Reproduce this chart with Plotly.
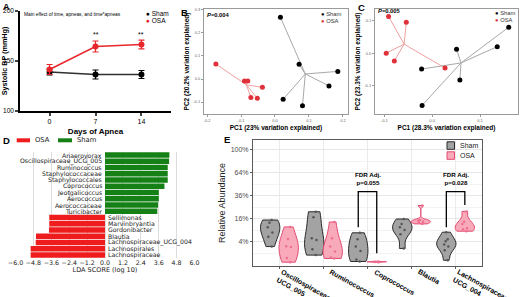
import numpy as np
import plotly.graph_objects as go

W, H = 522, 297
def PX(x): return x / W
def PY(y): return 1 - y / H

# ---------------- data ----------------
# Panel A
days = [0, 7, 14]
sham_bp = [139, 136.5, 136.5]
sham_err = [3, 4.5, 4]
osa_bp = [141.5, 164.5, 166.5]
osa_err = [5, 5.5, 4.3]

# Panel B (PCoA, 20.2% / 23%)
b_sham_x = [0.016, 0.071, 0.185, 0.159, 0.024, 0.081]
b_sham_y = [0.268, 0.064, 0.033, -0.030, -0.088, -0.116]
b_osa_x = [-0.174, -0.090, -0.080, -0.037, -0.071, -0.052]
b_osa_y = [0.065, -0.009, -0.009, -0.036, -0.080, -0.084]

# Panel C
c_sham_x = [0.160, 0.136, 0.051, -0.022, 0.058, -0.021]
c_sham_y = [0.080, 0.020, 0.012, -0.049, -0.083, -0.161]
c_osa_x = [-0.091, -0.054, -0.096, -0.079, 0.027]
c_osa_y = [0.113, 0.095, 0.000, -0.024, -0.046]

# Panel D (LEfSe)
sham_taxa = ["Anaerovorax", "Oscillospiraceae_UCG_005", "Ruminococcus", "Staphylococcaceae",
             "Staphylococcales", "Coprococcus", "Jeotgalicoccus", "Aerococcus",
             "Aerococcaceae", "Turicibacter"]
sham_lda = [4.32, 4.30, 4.21, 4.21, 4.21, 3.99, 3.61, 3.61, 3.56, 3.51]
osa_taxa = ["Sellimonas", "Marvinbryantia", "Gordonibacter", "Blautia",
            "Lachnospiraceae_UCG_004", "Lachnospirales", "Lachnospiraceae"]
osa_lda = [-3.74, -3.74, -3.76, -4.63, -4.65, -4.99, -4.99]
lda_ticks = [-6.0, -4.8, -3.6, -2.4, -1.2, 0.0, 1.2, 2.4, 3.6, 4.8, 6.0]

# Panel E (relative abundance, %)
genera = ["Oscillospiraceae<br>UCG_005", "Ruminococcus", "Coprococcus", "Blautia",
          "Lachnospiraceae<br>UCG_004"]
sham_oscillo = [15.1, 13.3, 10.6, 7.9, 5.9, 2.5]
osa_oscillo = [10.8, 5.0, 2.6, 2.4, 0.35, 0.05]
sham_rumino = [21.2, 17.0, 5.3, 4.6, 1.8, 0.7]
osa_rumino = [13.8, 5.3, 2.5, 1.3, 0.4, 0.3]
sham_copro = [7.7, 4.9, 2.5, 1.4, 0.2, 0.08]
osa_copro = [0.06, 0.07, 0.05, 0.08, 0.06, 0.07]
sham_blautia = [15.8, 12.5, 10.6, 9.1, 7.0, 2.0]
osa_blautia = [26.5, 15.1, 14.6, 14.0, 13.3, 12.6]
sham_lachno = [8.0, 4.9, 4.2, 3.1, 2.5, 1.6, 0.15]
osa_lachno = [21.5, 14.0, 12.5, 10.0, 9.5, 8.5]
abund_ticks = [4, 16, 36, 64, 100]
sham_groups = [sham_oscillo, sham_rumino, sham_copro, sham_blautia, sham_lachno]
osa_groups = [osa_oscillo, osa_rumino, osa_copro, osa_blautia, osa_lachno]

RED = "#e8262b"
fig = go.Figure()

# ---------------- Panel A ----------------
fig.add_trace(go.Scatter(x=days, y=sham_bp, mode="lines+markers", xaxis="x", yaxis="y",
                         line=dict(color="#303030", width=1.5),
                         marker=dict(color="black", size=6),
                         error_y=dict(type="data", array=sham_err, color="black", thickness=1.2, width=3),
                         showlegend=False))
fig.add_trace(go.Scatter(x=days, y=osa_bp, mode="lines+markers", xaxis="x", yaxis="y",
                         line=dict(color=RED, width=1.5),
                         marker=dict(color=RED, size=6),
                         error_y=dict(type="data", array=osa_err, color=RED, thickness=1.2, width=3),
                         showlegend=False))

# ---------------- Panels B, C ----------------
def spider(xs, ys, color, lcolor, xa, ya):
    cx, cy = float(np.mean(xs)), float(np.mean(ys))
    lx, ly = [], []
    for a, b in zip(xs, ys):
        lx += [cx, a, None]
        ly += [cy, b, None]
    fig.add_trace(go.Scatter(x=lx, y=ly, mode="lines", xaxis=xa, yaxis=ya,
                             line=dict(color=lcolor, width=1), showlegend=False, hoverinfo="skip"))
    fig.add_trace(go.Scatter(x=xs, y=ys, mode="markers", xaxis=xa, yaxis=ya,
                             marker=dict(color=color, size=5), showlegend=False))

spider(b_sham_x, b_sham_y, "black", "#a8a8a8", "x2", "y2")
spider(b_osa_x, b_osa_y, "#e0303a", "#f2a0a0", "x2", "y2")
spider(c_sham_x, c_sham_y, "black", "#a8a8a8", "x3", "y3")
spider(c_osa_x, c_osa_y, "#e0303a", "#f2a0a0", "x3", "y3")

# ---------------- Panel D ----------------
fig.add_trace(go.Bar(y=sham_taxa, x=sham_lda, orientation="h", xaxis="x4", yaxis="y4",
                     marker=dict(color="#158015", line=dict(width=0)), width=0.86, showlegend=False))
fig.add_trace(go.Bar(y=osa_taxa, x=osa_lda, orientation="h", xaxis="x4", yaxis="y4",
                     marker=dict(color="#ee1c1c", line=dict(width=0)), width=0.86, showlegend=False))

# ---------------- Panel E ----------------
def vio(groups, shift, fill, line, pcol, name):
    # one trace per violin so that each violin is scaled to the same max width
    for i, vals in enumerate(groups):
        fig.add_trace(go.Violin(x=[i + shift] * len(vals), y=list(np.sqrt(vals)), name=name,
                                xaxis="x5", yaxis="y5",
                                fillcolor=fill, line=dict(color=line, width=1),
                                spanmode="hard", scalemode="width", width=0.44, points="all",
                                pointpos=0, jitter=0.3,
                                marker=dict(color=pcol, size=2.5),
                                box=dict(visible=False), meanline=dict(visible=False),
                                opacity=1, showlegend=False, hoverinfo="y"))

vio(sham_groups, -0.21, "#a3a3a3", "#2a2a2a", "#555555", "Sham")
vio(osa_groups, 0.21, "#f8aabb", "#e24a70", "#ef6f8f", "OSA")

# ---------------- layout ----------------
layout = dict(
    width=W, height=H, margin=dict(l=0, r=0, t=0, b=0, autoexpand=False),
    paper_bgcolor="white", plot_bgcolor="white",
    showlegend=False, violinmode="overlay",
    barmode="overlay",
    font=dict(family="Liberation Sans", color="black"),
    # A
    xaxis=dict(domain=[PX(20), PX(171)], range=[-4.5, 18.5], anchor="y",
               tickvals=days, showline=True, linecolor="black", linewidth=1.5,
               ticks="outside", ticklen=3, tickwidth=1.5, showgrid=False, zeroline=False,
               tickfont=dict(family="Liberation Sans", size=7, color="black"),
               title=dict(text="<b>Days of Apnea</b>", font=dict(size=8), standoff=4)),
    yaxis=dict(domain=[PY(111), PY(11)], range=[100, 200], anchor="x",
               tickvals=[100, 150, 200], showline=True, linecolor="black", linewidth=1.5,
               ticks="outside", ticklen=3, tickwidth=1.5, showgrid=False, zeroline=False,
               tickfont=dict(family="Liberation Sans", size=6.5, color="black"),
               title=dict(text="<b>Systolic BP (mmHg)</b>", font=dict(size=7.2), standoff=2)),
    # B
    xaxis2=dict(domain=[PX(204), PX(348)], range=[-0.209, 0.215], anchor="y2",
                tickvals=[-0.2, -0.1, 0.0, 0.1, 0.2], ticktext=["-0.2", "-0.1", "0.0", "0.1", "0.2"],
                showline=True, mirror=True, linecolor="#9a9a9a", linewidth=1,
                ticks="outside", ticklen=2, tickcolor="#9a9a9a", showgrid=False, zeroline=False,
                tickfont=dict(size=4, color="#666666"),
                title=dict(text="<b>PC1 (23% variation explained)</b>", font=dict(size=6.5), standoff=3)),
    yaxis2=dict(domain=[PY(114), PY(9)], range=[-0.152, 0.304], anchor="x2",
                tickvals=[-0.1, 0.0, 0.1, 0.2, 0.3], ticktext=["-0.1", "0.0", "0.1", "0.2", "0.3"],
                showline=True, mirror=True, linecolor="#9a9a9a", linewidth=1,
                ticks="outside", ticklen=2, tickcolor="#9a9a9a", showgrid=False, zeroline=False,
                tickfont=dict(size=4, color="#666666"),
                title=dict(text="<b>PC2 (20.2% variation explained)</b>", font=dict(size=6.5), standoff=3)),
    # C
    xaxis3=dict(domain=[PX(375), PX(518)], range=[-0.1194, 0.1794], anchor="y3",
                tickvals=[-0.1, 0.0, 0.1], ticktext=["-0.1", "0.0", "0.1"],
                showline=True, mirror=True, linecolor="#9a9a9a", linewidth=1,
                ticks="outside", ticklen=2, tickcolor="#9a9a9a", showgrid=False, zeroline=False,
                tickfont=dict(size=4, color="#666666"),
                title=dict(text="<b>PC1 (28.3% variation explained)</b>", font=dict(size=6.5), standoff=3)),
    yaxis3=dict(domain=[PY(114), PY(9)], range=[-0.1875, 0.136], anchor="x3",
                tickvals=[-0.1, 0.0, 0.1], ticktext=["-0.1", "0.0", "0.1"],
                showline=True, mirror=True, linecolor="#9a9a9a", linewidth=1,
                ticks="outside", ticklen=2, tickcolor="#9a9a9a", showgrid=False, zeroline=False,
                tickfont=dict(size=4, color="#666666"),
                title=dict(text="<b>PC2 (23.3% variation explained)</b>", font=dict(size=6.5), standoff=3)),
    # D
    xaxis4=dict(domain=[PX(15.6), PX(194.4)], range=[-6, 6], anchor="y4",
                tickvals=lda_ticks, ticktext=[("\u2212%.1f" % -v) if v < 0 else "%.1f" % v for v in lda_ticks],
                showline=False, ticks="", showgrid=True, gridcolor="#dcdcdc", gridwidth=1,
                zeroline=False,
                tickfont=dict(family="DejaVu Sans", size=6.3, color="#222222"),
                title=dict(text="LDA SCORE (log 10)", font=dict(family="DejaVu Sans", size=6.5, color="#222222"),
                           standoff=2)),
    yaxis4=dict(domain=[PY(258.1), PY(151.9)], range=[16.5, -0.5], anchor="x4",
                showticklabels=False, showline=False, showgrid=False, zeroline=False, ticks=""),
    # E
    xaxis5=dict(domain=[PX(253), PX(482)], range=[-0.6, 4.6], anchor="y5",
                tickvals=list(range(len(genera))), showticklabels=False,
                showline=True, mirror=True, linecolor="#5a5a5a", linewidth=1,
                ticks="outside", ticklen=2, tickcolor="#5a5a5a",
                showgrid=True, gridcolor="#ebebeb", gridwidth=1, zeroline=False),
    yaxis5=dict(domain=[PY(266), PY(140)], range=[-0.11, 10.84], anchor="x5",
                tickvals=list(np.sqrt(abund_ticks)), ticktext=["%d%%" % v for v in abund_ticks],
                showline=True, mirror=True, linecolor="#5a5a5a", linewidth=1,
                ticks="outside", ticklen=2, tickcolor="#5a5a5a",
                showgrid=True, gridcolor="#e6e6e6", gridwidth=1, zeroline=False,
                minor=dict(tickvals=[1, 3, 5, 7, 9], showgrid=True, gridcolor="#f3f3f3", gridwidth=0.5, ticks=""),
                tickfont=dict(family="Liberation Sans", size=7, color="#4d4d4d"),
                title=dict(text="Relative Abundance", font=dict(size=9, color="#222222"), standoff=3)),
)
fig.update_layout(**layout)
for ax in ["xaxis", "yaxis", "xaxis2", "yaxis2", "xaxis3", "yaxis3", "xaxis4", "yaxis4", "xaxis5", "yaxis5"]:
    fig.layout[ax].automargin = False

ann = []
shapes = []
def T(x, y, text, size, xanchor="left", yanchor="middle", family="Liberation Sans", color="black", **kw):
    ann.append(dict(x=PX(x), y=PY(y), xref="paper", yref="paper", text=text, showarrow=False,
                    xanchor=xanchor, yanchor=yanchor, font=dict(family=family, size=size, color=color), **kw))

# panel letters
T(1, 0, "<b>A</b>", 9, yanchor="top")
T(179, 5, "<b>B</b>", 9.5, yanchor="top")
T(356, 0, "<b>C</b>", 9.5, yanchor="top")
T(1, 133, "<b>D</b>", 9.5, yanchor="top")
T(222, 132, "<b>E</b>", 9.5, yanchor="top")

# Panel A texts
T(22, 14, "Main effect of time, apneas, and time*apneas", 4.8)
T(143.5, 13.3, '<span style="color:black">\u25CF</span> Sham', 6.5)
T(143.5, 20.7, '<span style="color:%s">\u25CF</span> OSA' % RED, 6.5)
for d in days[1:]:
    ann.append(dict(x=d, y=171, xref="x", yref="y", text="**", showarrow=False,
                    yanchor="bottom", font=dict(size=7, color="black")))

# Panel B, C texts
T(205, 14.7, "<b><i>P</i>=0.004</b>", 5.8)
T(319, 14, '<span style="color:black">\u25CF</span> Sham', 5.8, color="#333333")
T(319, 20.7, '<span style="color:#e0303a">\u25CF</span> OSA', 5.8, color="#333333")
T(376, 11.3, "<b><i>P</i>=0.005</b>", 5.8)
T(493, 13.3, '<span style="color:black">\u25CF</span> Sham', 5.8, color="#333333")
T(493, 20, '<span style="color:#e0303a">\u25CF</span> OSA', 5.8, color="#333333")

# Panel D legend + labels
shapes.append(dict(type="rect", xref="paper", yref="paper", x0=PX(16.7), x1=PX(30), y0=PY(142.3), y1=PY(138.3),
                   fillcolor="#ee1c1c", line=dict(width=0)))
T(33, 140.3, "OSA", 6.8, family="DejaVu Sans", color="#222222")
shapes.append(dict(type="rect", xref="paper", yref="paper", x0=PX(58), x1=PX(72), y0=PY(142.3), y1=PY(138.3),
                   fillcolor="#158015", line=dict(width=0)))
T(75, 140.3, "Sham", 6.8, family="DejaVu Sans", color="#222222")
for t in sham_taxa:
    ann.append(dict(x=0, y=t, xref="x4", yref="y4", text=t, showarrow=False, xanchor="right", xshift=-1,
                    font=dict(family="DejaVu Sans", size=6.2, color="#222222")))
for t in osa_taxa:
    ann.append(dict(x=0, y=t, xref="x4", yref="y4", text=t, showarrow=False, xanchor="left", xshift=1,
                    font=dict(family="DejaVu Sans", size=6.2, color="#222222")))

# Panel E rotated category labels
for i, g in enumerate(genera):
    nl = g.count("<br>") + 1
    ann.append(dict(x=i, y=PY(267), xref="x5", yref="paper", text="<b>%s</b>" % g, showarrow=False,
                    textangle=29, xanchor="left", yanchor="top", align="left",
                    xshift=4 if nl == 1 else -5, borderpad=0,
                    font=dict(family="Liberation Sans", size=7, color="black")))

# Panel E legend
shapes.append(dict(type="rect", xref="paper", yref="paper", x0=PX(447), x1=PX(454.5), y0=PY(149.3), y1=PY(141.8),
                   fillcolor="#a3a3a3", line=dict(color="#2a2a2a", width=1)))
shapes.append(dict(type="rect", xref="paper", yref="paper", x0=PX(447), x1=PX(454.5), y0=PY(159.3), y1=PY(151.8),
                   fillcolor="#f8aabb", line=dict(color="#e24a70", width=1)))
T(458, 145.5, "Sham", 7, color="#222222")
T(458, 155.5, "OSA", 7, color="#222222")

# Panel E brackets
def bracket(i, top, left_low, right_low, label):
    xl, xr = i - 0.21, i + 0.21
    shapes.append(dict(type="path", xref="x5", yref="y5",
                       path="M %f,%f L %f,%f L %f,%f L %f,%f" % (xl, left_low, xl, top, xr, top, xr, right_low),
                       line=dict(color="black", width=1.3)))
    ann.append(dict(x=i, y=top + 0.35, xref="x5", yref="y5", text="<b>FDR Adj.<br>p=%s</b>" % label,
                    showarrow=False, yanchor="bottom", font=dict(family="Liberation Sans", size=6.2, color="black")))

bracket(2, 6.35, 3.25, 0.99, "0.055")
bracket(4, 6.35, 3.25, 5.19, "0.028")

fig.update_layout(annotations=ann, shapes=shapes)
fig.write_html("out.html", config={"displayModeBar": False},
               post_script="document.body.style.margin='0px';document.body.style.overflow='hidden';")
